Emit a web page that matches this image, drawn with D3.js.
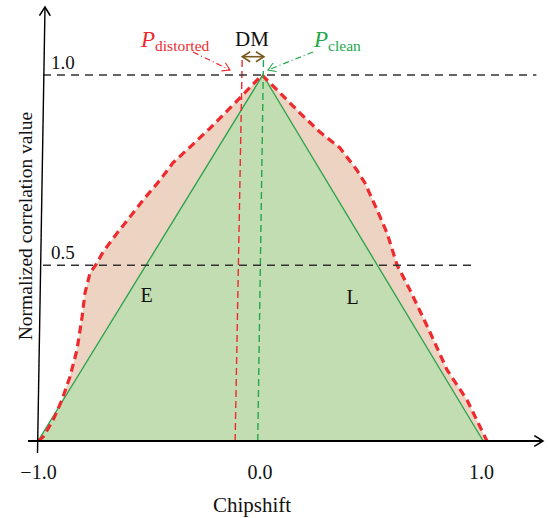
<!DOCTYPE html>
<html><head><meta charset="utf-8">
<script src="https://cdn.jsdelivr.net/npm/d3@7"></script>
<style>body{margin:0;background:#fff}svg{display:block}text{font-family:"Liberation Serif","DejaVu Serif",serif}</style>
</head><body><svg id="c" width="548" height="518"></svg>
<script>
// ---- data ----
const cleanX = [-1.0, 0.015, 1.01];
const cleanY = [0, 1.0, 0];
const distortedX = [-1.0,-0.977,-0.932,-0.892,-0.856,-0.824,-0.801,-0.788,-0.765,-0.734,-0.707,-0.643,-0.585,-0.526,-0.449,-0.391,-0.314,-0.223,-0.097,0.011,0.093,0.183,0.273,0.363,0.440,0.476,0.531,0.576,0.621,0.679,0.770,0.847,0.937,1.027];
const distortedY = [0,0.011,0.057,0.112,0.175,0.249,0.339,0.404,0.459,0.486,0.516,0.568,0.612,0.658,0.713,0.760,0.803,0.855,0.932,1.0,0.951,0.896,0.844,0.801,0.740,0.705,0.631,0.568,0.481,0.413,0.297,0.194,0.112,0];
const xTicks = [-1.0, 0.0, 1.0];
const xTickLabels = ["\u22121.0", "0.0", "1.0"];
const refLineValues = [1.0, 0.48];
const refLineLabels = ["1.0", "0.5"];
const refLineEnds = [1.25, 0.98];
const distortedPeakLine = [[-0.11, 0], [-0.078, 1.046]];
const cleanPeakLine = [[-0.008, 0], [0.018, 1.046]];
const dmArrow = [[-0.078, 1.05], [0.02, 1.05]];
const regionLabels = [{t:"E", x:-0.51, y:0.38}, {t:"L", x:0.42, y:0.375}];

// ---- scales ----
const svg = d3.select("#c");
const x = d3.scaleLinear().domain([-1, 1]).range([38, 481]);
const y = d3.scaleLinear().domain([0, 1]).range([441, 75]);

const defs = svg.append("defs");
function chevron(id, color, size, sw){
  defs.append("marker").attr("id", id).attr("viewBox","-10 -6 12 12")
    .attr("refX",0).attr("refY",0).attr("markerWidth",size).attr("markerHeight",size)
    .attr("markerUnits","userSpaceOnUse").attr("orient","auto-start-reverse")
    .append("path").attr("d","M-8,-5 L0,0 L-8,5").attr("fill","none")
    .attr("stroke",color).attr("stroke-width",sw);
}
chevron("axArrow","#000",13,1.4);
chevron("dmArr","#7b5a1e",12,1.6);
chevron("redArr","#ee2a2e",11,1.2);
chevron("grnArr","#22a84a",11,1.2);

const pts = (xs, ys) => xs.map((v,i)=>[v, ys[i]]);
const area = d3.area().x(d=>x(d[0])).y0(y(0)).y1(d=>y(d[1]));
const line = d3.line().x(d=>x(d[0])).y(d=>y(d[1]));

const dist = pts(distortedX, distortedY);
const clean = pts(cleanX, cleanY);

svg.append("path").attr("d", area(dist)).attr("fill","#edd3c2");
svg.append("path").attr("d", area(clean)).attr("fill","#c3ddb3");
svg.append("path").attr("d", line(clean)).attr("fill","none").attr("stroke","#2ea44f").attr("stroke-width",1.4);
svg.append("path").attr("d", line(dist)).attr("fill","none").attr("stroke","#ee2a2e")
  .attr("stroke-width",3.2).attr("stroke-dasharray","8,5");

// vertical peak markers
svg.append("path").attr("d", line(distortedPeakLine)).attr("stroke","#ee2a2e").attr("stroke-width",1.4).attr("stroke-dasharray","7,4").attr("fill","none");
svg.append("path").attr("d", line(cleanPeakLine)).attr("stroke","#22a84a").attr("stroke-width",1.4).attr("stroke-dasharray","7,4").attr("fill","none");

// reference dashed lines
refLineValues.forEach((v,i)=>{
  svg.append("line").attr("x1", 43).attr("x2", x(refLineEnds[i])).attr("y1", y(v)).attr("y2", y(v))
    .attr("stroke","#333").attr("stroke-width",1.4).attr("stroke-dasharray","8,6");
  svg.append("text").attr("x", 51).attr("y", y(v)-6).attr("font-size",19).attr("fill","#111").text(refLineLabels[i]);
});

// axes
svg.append("line").attr("x1",28).attr("x2",543).attr("y1",y(0)).attr("y2",y(0))
  .attr("stroke","#000").attr("stroke-width",2).attr("marker-end","url(#axArrow)");
svg.append("line").attr("x1",37.5).attr("y1",453).attr("x2",45).attr("y2",7)
  .attr("stroke","#000").attr("stroke-width",1.4).attr("marker-end","url(#axArrow)");

const xAxis = d3.axisBottom(x).tickValues(xTicks).tickSize(0).tickPadding(24)
  .tickFormat((d,i)=>xTickLabels[i]);
const gx = svg.append("g").attr("transform",`translate(0,${y(0)})`).call(xAxis);
gx.select(".domain").remove();
gx.selectAll("text").attr("font-size",20).attr("fill","#111").attr("font-family","Liberation Serif");

svg.append("text").attr("x",252).attr("y",512).attr("text-anchor","middle").attr("font-size",21).attr("fill","#111").text("Chipshift");
svg.append("text").attr("transform","translate(32,226) rotate(-90)").attr("text-anchor","middle")
  .attr("font-size",19.5).attr("fill","#111").text("Normalized correlation value");

// region labels
regionLabels.forEach(r=>{
  svg.append("text").attr("x",x(r.x)).attr("y",y(r.y)).attr("text-anchor","middle").attr("font-size",20).attr("fill","#111").text(r.t);
});

// DM arrow
svg.append("path").attr("d", line(dmArrow)).attr("stroke","#7b5a1e").attr("stroke-width",1.6).attr("fill","none")
  .attr("marker-start","url(#dmArr)").attr("marker-end","url(#dmArr)");
svg.append("text").attr("x",252).attr("y",46).attr("text-anchor","middle").attr("font-size",21).attr("fill","#111").text("DM");

// P labels
const pd = svg.append("text").attr("x",141).attr("y",47).attr("fill","#ee2a2e");
pd.append("tspan").attr("font-size",23).attr("font-style","italic").text("P");
pd.append("tspan").attr("font-size",15.5).attr("dy",4).text("distorted");
const pc = svg.append("text").attr("x",314).attr("y",47).attr("fill","#22a84a");
pc.append("tspan").attr("font-size",23).attr("font-style","italic").text("P");
pc.append("tspan").attr("font-size",15.5).attr("dy",4).text("clean");

// leaders
svg.append("line").attr("x1",193).attr("y1",52).attr("x2",230).attr("y2",70)
  .attr("stroke","#ee2a2e").attr("stroke-width",1.2).attr("stroke-dasharray","6,3,1,3").attr("marker-end","url(#redArr)");
svg.append("line").attr("x1",313).attr("y1",52).attr("x2",268).attr("y2",70)
  .attr("stroke","#22a84a").attr("stroke-width",1.2).attr("stroke-dasharray","6,3,1,3").attr("marker-end","url(#grnArr)");
</script></body></html>
